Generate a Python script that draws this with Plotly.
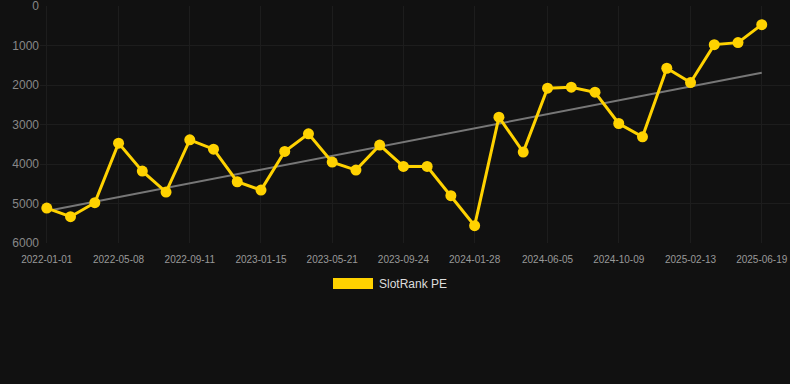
import plotly.graph_objects as go

dates = [
    "2022-01-01", "2022-02-12", "2022-03-27", "2022-05-08", "2022-06-19", "2022-07-31",
    "2022-09-11", "2022-10-23", "2022-12-04", "2023-01-15", "2023-02-26", "2023-04-09",
    "2023-05-21", "2023-07-02", "2023-08-13", "2023-09-24", "2023-11-05", "2023-12-17",
    "2024-01-28", "2024-03-11", "2024-04-23", "2024-06-05", "2024-07-17", "2024-08-28",
    "2024-10-09", "2024-11-20", "2025-01-02", "2025-02-13", "2025-03-27", "2025-05-08",
    "2025-06-19",
]
rank = [
    5115, 5334, 4980, 3472, 4180, 4711,
    3388, 3624, 4449, 4660, 3683, 3236,
    3952, 4155, 3522, 4062, 4062, 4803,
    5562, 2815, 3699, 2081, 2056, 2183,
    2975, 3312, 1576, 1938, 978, 927,
    472,
]
trend_dates = ["2022-01-01", "2025-06-19"]
trend_values = [5190, 1690]

tick_dates = ["2022-01-01", "2022-05-08", "2022-09-11", "2023-01-15", "2023-05-21",
              "2023-09-24", "2024-01-28", "2024-06-05", "2024-10-09", "2025-02-13",
              "2025-06-19"]
y_ticks = [0, 1000, 2000, 3000, 4000, 5000, 6000]
series_name = "SlotRank PE"

gold = "#FFD200"
bg = "#111111"
grid = "#1d1d1d"

fig = go.Figure()
fig.add_trace(go.Scatter(
    x=trend_dates, y=trend_values, mode="lines",
    line=dict(color="#777777", width=2), showlegend=False, hoverinfo="skip"))
fig.add_trace(go.Scatter(
    x=dates, y=rank, mode="lines+markers", name=series_name,
    line=dict(color=gold, width=3), marker=dict(color=gold, size=11),
    showlegend=False))

# legend drawn manually (rectangle + text)
fig.add_shape(type="rect", xref="paper", yref="paper",
              x0=(333 - 40) / 750, x1=(373 - 40) / 750,
              y0=(243 - 289) / 237, y1=(243 - 278) / 237,
              fillcolor=gold, line=dict(width=0))
fig.add_annotation(xref="paper", yref="paper", x=(377 - 40) / 750, y=(243 - 284) / 237,
                   text=series_name, showarrow=False, xanchor="left", yanchor="middle",
                   font=dict(size=12, color="#dddddd"))

fig.update_layout(
    width=790, height=384,
    margin=dict(l=40, r=0, t=6, b=141),
    paper_bgcolor=bg, plot_bgcolor=bg,
    font=dict(family="Liberation Sans, Arial, sans-serif", color="#888888"),
    xaxis=dict(
        type="date",
        range=["2021-12-20", "2025-08-08"],
        tickmode="array", tickvals=tick_dates, ticktext=tick_dates,
        tickfont=dict(size=10, color="#999999"),
        showgrid=True, gridcolor=grid, gridwidth=1,
        zeroline=False, showline=False, ticks="", ticklabelstandoff=9,
        ticklabeloverflow="allow",
    ),
    yaxis=dict(
        range=[6000, 0],
        tickmode="array", tickvals=y_ticks,
        tickfont=dict(size=12, color="#888888"),
        showgrid=True, gridcolor=grid, gridwidth=1,
        zeroline=False, showline=False, ticks="",
        ticklabeloverflow="allow",
    ),
)

fig.write_html(
    "out.html",
    config={"displayModeBar": False},
    post_script="document.body.style.margin='0';document.body.style.background='#111111';",
)
